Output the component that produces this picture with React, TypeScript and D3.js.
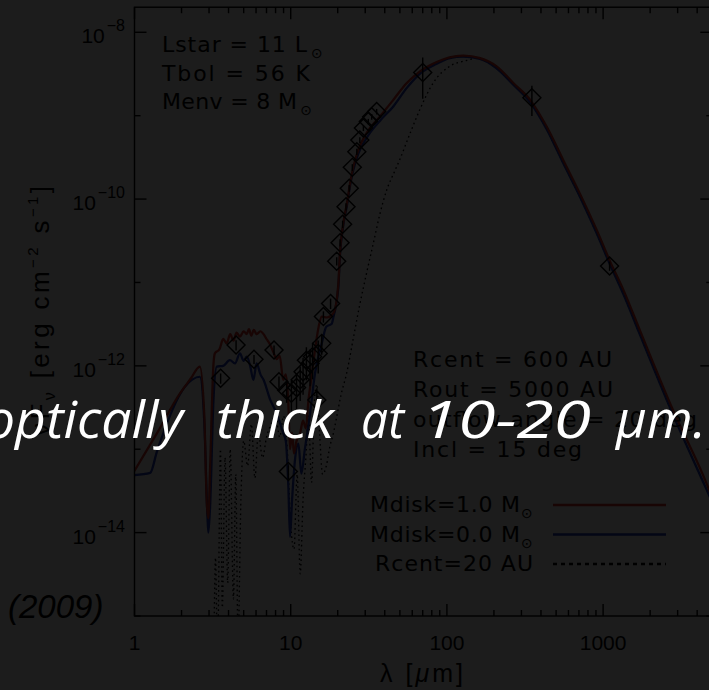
import React, { useEffect } from 'react';
import * as d3 from 'd3';

const W = 709;
const H = 690;

// Axis ticks
const xTickValues = [1, 10, 100, 1000];
const xTickLabels = ['1', '10', '100', '1000'];
const yMajorExps = [-8, -10, -12, -14];
const yMinorExps = [-9, -11, -13, -15];

// Model SED: Mdisk = 1.0 Msun
const redWave = [1.0, 1.4, 1.96, 2.3, 2.62, 2.8, 2.9, 2.97, 3.05, 3.2, 3.27, 3.5, 3.7, 3.89, 4.1, 4.3, 4.5, 4.73, 5.0, 5.23, 5.4, 5.6, 5.8, 6.05, 6.4, 6.7, 7.0, 7.4, 7.8, 8.13, 8.5, 8.96, 9.3, 9.66, 9.9, 10.2, 10.5, 10.9, 11.5, 12.0, 12.5, 13.0, 13.6, 14.3, 15.1, 15.8, 17.0, 18.8, 20.2, 20.6, 21.7, 22.9, 24.0, 25.2, 27.1, 30.6, 37.3, 45.4, 55.2, 67.3, 86.1, 104, 127, 163, 208, 267, 341, 435, 555, 709, 908, 1110, 1350, 1715, 2800, 4590, 5000];
const redFlux = [5.5e-14, 1.58e-13, 4.7e-13, 7.1e-13, 9.8e-13, 2.5e-13, 2.3e-14, 1.48e-14, 6.3e-14, 1.02e-12, 1.41e-12, 1.58e-12, 2.1e-12, 1.86e-12, 2.4e-12, 2.0e-12, 2.5e-12, 2.24e-12, 2.6e-12, 2.4e-12, 2.75e-12, 2.3e-12, 2.7e-12, 2.4e-12, 2.6e-12, 2.4e-12, 2.1e-12, 1.78e-12, 1.41e-12, 1.2e-12, 1.32e-12, 6.8e-13, 7.9e-13, 3.5e-13, 1.0e-13, 1.58e-13, 8.9e-14, 1.26e-13, 1.58e-13, 2.2e-13, 1.78e-13, 3.9e-13, 7.4e-13, 1.55e-12, 2.95e-12, 3.9e-12, 3.8e-12, 4.3e-12, 9.8e-12, 2.04e-11, 5.1e-11, 8.9e-11, 1.55e-10, 2.45e-10, 3.9e-10, 6.2e-10, 9.8e-10, 1.55e-9, 2.45e-9, 3.4e-9, 4.4e-9, 5.0e-9, 5.25e-9, 4.9e-9, 3.9e-9, 2.45e-9, 1.55e-9, 7.4e-10, 2.95e-10, 1.17e-10, 4.3e-11, 1.78e-11, 8.1e-12, 2.7e-12, 2.95e-13, 3.9e-14, 2.6e-14];

// Model SED: Mdisk = 0.0 Msun
const blueWave = [1.0, 1.26, 1.39, 2.1, 2.62, 2.8, 2.93, 2.97, 3.05, 3.2, 3.36, 3.7, 4.08, 4.4, 4.73, 5.0, 5.23, 5.5, 5.77, 6.05, 6.4, 6.7, 7.4, 8.13, 8.96, 9.3, 9.66, 9.9, 10.2, 10.7, 11.2, 11.7, 12.3, 13.3, 14.3, 15.8, 16.9, 18.3, 18.8, 20.2, 20.6, 21.7, 22.9, 24.0, 25.2, 27.1, 30.6, 37.3, 45.4, 55.2, 67.3, 86.1, 104, 127, 163, 208, 267, 341, 435, 555, 709, 908, 1110, 1350, 1715, 2800, 4590, 5000];
const blueFlux = [4.9e-14, 5.2e-14, 9.3e-14, 5.6e-13, 7.4e-13, 2.0e-13, 1.58e-14, 1.0e-14, 2.1e-14, 3.7e-13, 9.8e-13, 1.0e-12, 1.17e-12, 1.07e-12, 1.41e-12, 1.15e-12, 1.29e-12, 1.0e-12, 6.8e-13, 1.07e-12, 7.9e-13, 6.8e-13, 3.9e-13, 2.7e-13, 1.55e-13, 1.26e-13, 3.5e-14, 8.9e-15, 2.45e-14, 8.1e-14, 1.17e-13, 5.1e-14, 9.8e-14, 2.7e-13, 8.1e-13, 1.86e-12, 2.95e-12, 3.2e-12, 3.9e-12, 8.9e-12, 1.9e-11, 4.8e-11, 8.3e-11, 1.45e-10, 2.24e-10, 3.5e-10, 5.4e-10, 8.7e-10, 1.29e-9, 2.14e-9, 3.2e-9, 4.2e-9, 4.9e-9, 5.1e-9, 4.8e-9, 3.7e-9, 2.34e-9, 1.45e-9, 6.9e-10, 2.7e-10, 1.07e-10, 3.9e-11, 1.62e-11, 7.2e-12, 2.4e-12, 2.6e-13, 3.3e-14, 2.3e-14];

// Model SED: Rcent = 20 AU
const dotWave = [3.0, 3.2, 3.3, 3.4, 3.55, 3.65, 3.8, 3.95, 4.1, 4.3, 4.45, 4.6, 4.8, 5.0, 5.3, 5.6, 5.9, 6.2, 6.6, 7.0, 7.5, 8.0, 8.5, 9.0, 9.5, 10.0, 10.5, 11.0, 11.5, 12.0, 12.5, 13.0, 13.6, 14.2, 14.7, 15.3, 16.0, 16.9, 17.8, 18.8, 19.7, 21.0, 22.8, 25.0, 27.5, 30.5, 33.8, 37.0, 41.2, 46.0, 50.0, 58.2, 67.3, 82, 104, 134, 155, 208, 267, 341, 435, 555, 709, 908, 1110, 1350, 1715, 2800, 4590, 5000];
const dotFlux = [1e-16, 3.2e-16, 5e-15, 3.2e-16, 1e-13, 1.26e-15, 7.9e-14, 2.5e-15, 1e-13, 1.6e-15, 5e-14, 5e-16, 2.5e-14, 1.26e-13, 6.3e-14, 2e-13, 4.5e-14, 1.58e-13, 7.9e-14, 1.4e-13, 2e-13, 2.5e-13, 1.4e-13, 2.5e-13, 1e-13, 1.26e-14, 6.3e-15, 5e-14, 3.2e-15, 2.5e-14, 7.9e-14, 2.5e-13, 4e-14, 4e-13, 6e-13, 1.58e-13, 5e-14, 6.3e-14, 1.07e-13, 1.58e-13, 2.45e-13, 4.5e-13, 8.1e-13, 2.0e-12, 5.1e-12, 1.26e-11, 2.95e-11, 6.3e-11, 1.29e-10, 2.1e-10, 3.0e-10, 6.2e-10, 1.2e-9, 2.5e-9, 3.9e-9, 4.6e-9, 4.9e-9, 3.7e-9, 2.34e-9, 1.45e-9, 6.9e-10, 2.7e-10, 1.07e-10, 3.9e-11, 1.62e-11, 7.2e-12, 2.4e-12, 2.6e-13, 3.3e-14, 2.3e-14];

// Observed photometry and IRS spectrum
const obsWave = [3.56, 4.47, 5.82, 7.82, 8.41, 9.42, 9.66, 10.1, 10.9, 11.5, 12.0, 12.6, 13.3, 13.8, 14.7, 15.0, 15.8, 16.2, 18.0, 19.7, 20.7, 21.5, 22.6, 23.7, 24.8, 26.5, 27.7, 29.2, 31.4, 33.0, 35.5, 70, 350, 1100];
const obsFlux = [7.1e-13, 1.78e-12, 1.2e-12, 1.55e-12, 6.45e-13, 5.1e-13, 5.4e-14, 4.7e-13, 5.5e-13, 6.8e-13, 8.5e-13, 1.17e-12, 1.07e-12, 1.29e-12, 3.9e-13, 1.41e-12, 1.86e-12, 3.9e-12, 5.6e-12, 1.8e-11, 3.0e-11, 5.0e-11, 8.1e-11, 1.35e-10, 2.4e-10, 3.7e-10, 5.1e-10, 7.1e-10, 8.5e-10, 9.7e-10, 1.12e-9, 3.3e-9, 1.64e-9, 1.58e-11];
const obsErr = [1.0e-13, 2.5e-13, 1.5e-13, 2.0e-13, 1.0e-13, 1.5e-13, 1.0e-14, 2.0e-13, 2.5e-13, 3.0e-13, 4.0e-13, 5.0e-13, 5.0e-13, 6.0e-13, 1.5e-13, 6.0e-13, 5.0e-13, 6.0e-13, 8.0e-13, 2.0e-12, 3.0e-12, 5.0e-12, 8.0e-12, 1.3e-11, 2.2e-11, 3.2e-11, 4.2e-11, 5.6e-11, 6.5e-11, 7.5e-11, 8.5e-11, 1.7e-9, 6.5e-10, 2.0e-12];

// Model parameters and legend
const paramsTop = [
  { text: 'Lstar = 11 L', sun: true, len: 145 },
  { text: 'Tbol = 56 K', sun: false, len: 148 },
  { text: 'Menv = 8 M', sun: true, len: 135 },
];
const paramsBottom = [
  { text: 'Rcent = 600 AU', len: 199 },
  { text: 'Rout = 5000 AU', len: 200 },
  { text: 'outflow angle = 20 deg', len: 284 },
  { text: 'Incl = 15 deg', len: 169 },
];
const RED = '#180504';
const BLUE = '#030615';
const legendItems = [
  { label: 'Mdisk=1.0 M', sun: true, color: RED, dash: '', len: 150 },
  { label: 'Mdisk=0.0 M', sun: true, color: BLUE, dash: '', len: 150 },
  { label: 'Rcent=20 AU', sun: false, color: '#000000', dash: '4 4', len: 158 },
];

const captionWords = ['optically', 'thick', 'at', '10-20', 'μm.'];
const captionYear = '(2009)';

const BG = '#1c1c1c';
const INK = '#000000';

export default function App() {
  useEffect(() => {
    const root = document.documentElement;
    root.style.background = BG;
    root.style.colorScheme = 'only light';
    document.body.style.background = BG;
    document.body.style.margin = '0';
  }, []);

  const left = 134.5;
  const right = 712.3;
  const top = 7.2;
  const bottom = 616;
  const pw = right - left;
  const ph = bottom - top;

  // scales in the plot viewport's own coordinates
  const x = d3.scaleLog().domain([1, 5000]).range([0, pw]);
  const y = d3.scaleLog().domain([1e-15, 2e-8]).range([ph, 0]);

  const line = d3
    .line<[number, number]>()
    .x((d) => x(d[0]))
    .y((d) => y(Math.max(d[1], 1e-17)))
    .curve(d3.curveMonotoneX);

  const zip = (a: number[], b: number[]) => a.map((v, i) => [v, b[i]] as [number, number]);

  const xMinor: number[] = [];
  for (const dec of [1, 10, 100, 1000]) {
    for (let m = 2; m <= 9; m++) {
      if (dec * m <= 5000) xMinor.push(dec * m);
    }
  }

  const fontTick = "'Liberation Sans', Arial, sans-serif";
  const fontText = "'DejaVu Sans', sans-serif";

  // word placement of the white caption: [start x, rendered width]
  const captionPos: [number, number][] = [
    [-15, 198],
    [216, 118],
    [361, 43],
    [421, 170],
    [616, 90],
  ];

  return (
    <div style={{ position: 'fixed', left: 0, top: 0, width: W, height: H, background: BG }}>
      <svg width={W} height={H} style={{ display: 'block' }}>
        <rect x={0} y={0} width={W} height={H} fill={BG} />

        {/* plot viewport: clips model curves to the axes box */}
        <svg x={left} y={top} width={pw} height={ph} overflow="hidden">
          <path d={line(zip(dotWave, dotFlux)) || ''} fill="none" stroke="#000000" strokeWidth={1.3} strokeDasharray="1.6 3.2" />
          <path d={line(zip(blueWave, blueFlux)) || ''} fill="none" stroke={BLUE} strokeWidth={2.2} />
          <path d={line(zip(redWave, redFlux)) || ''} fill="none" stroke={RED} strokeWidth={2.2} />
        </svg>

        <g transform={`translate(${left},${top})`}>
          {/* observations */}
          {obsWave.map((w, i) => {
            const cx = x(w);
            const cy = y(obsFlux[i]);
            const r = 9;
            return (
              <g key={'ob' + i}>
                <line
                  x1={cx}
                  x2={cx}
                  y1={y(obsFlux[i] + obsErr[i])}
                  y2={y(Math.max(obsFlux[i] - obsErr[i], 1e-16))}
                  stroke="#000000"
                  strokeWidth={1.4}
                />
                <path
                  d={`M${cx},${cy - r}L${cx + r},${cy}L${cx},${cy + r}L${cx - r},${cy}Z`}
                  fill="none"
                  stroke="#000000"
                  strokeWidth={1.4}
                />
              </g>
            );
          })}

          {/* frame and ticks */}
          <rect x={0} y={0} width={pw} height={ph} fill="none" stroke="#000000" strokeWidth={1.4} />
          {xTickValues.map((v) => (
            <g key={'xm' + v}>
              <line x1={x(v)} x2={x(v)} y1={ph} y2={ph - 12} stroke="#000000" strokeWidth={1.4} />
              <line x1={x(v)} x2={x(v)} y1={0} y2={12} stroke="#000000" strokeWidth={1.4} />
            </g>
          ))}
          {xMinor.map((v) => (
            <g key={'xn' + v}>
              <line x1={x(v)} x2={x(v)} y1={ph} y2={ph - 6} stroke="#000000" strokeWidth={1.4} />
              <line x1={x(v)} x2={x(v)} y1={0} y2={6} stroke="#000000" strokeWidth={1.4} />
            </g>
          ))}
          {yMajorExps.map((e) => (
            <g key={'ym' + e}>
              <line x1={0} x2={12} y1={y(10 ** e)} y2={y(10 ** e)} stroke="#000000" strokeWidth={1.4} />
              <line x1={pw} x2={pw - 12} y1={y(10 ** e)} y2={y(10 ** e)} stroke="#000000" strokeWidth={1.4} />
            </g>
          ))}
          {yMinorExps.map((e) => (
            <g key={'yn' + e}>
              <line x1={0} x2={6} y1={y(10 ** e)} y2={y(10 ** e)} stroke="#000000" strokeWidth={1.4} />
              <line x1={pw} x2={pw - 6} y1={y(10 ** e)} y2={y(10 ** e)} stroke="#000000" strokeWidth={1.4} />
            </g>
          ))}

          {/* tick labels */}
          {xTickValues.map((v, i) => (
            <text key={'xl' + v} x={x(v)} y={650 - top} fontSize={21} textAnchor="middle" fill={INK} fontFamily={fontTick}>
              {xTickLabels[i]}
            </text>
          ))}
          {yMajorExps.map((e) => (
            <text key={'yl' + e} x={125 - left} y={y(10 ** e) + 11} fontSize={21} textAnchor="end" fill={INK} fontFamily={fontTick}>
              10
              <tspan fontSize={16} dy={-12} dx={2}>
                {'\u2212' + String(-e)}
              </tspan>
            </text>
          ))}
        </g>

        {/* axis titles */}
        <text x={380} y={682} fontSize={25} fill={INK} fontFamily={fontTick} textLength={83} lengthAdjust="spacing">
          λ [<tspan fontStyle="italic">μ</tspan>m]
        </text>
        <text
          transform="translate(49,311) rotate(-90)"
          fontSize={26}
          fill={INK}
          fontFamily={fontTick}
          textAnchor="middle"
          textLength={250}
          lengthAdjust="spacing"
        >
          νF
          <tspan fontSize={16} dy={6}>ν</tspan>
          <tspan dy={-6}> [erg cm</tspan>
          <tspan fontSize={15} dy={-11}>−2</tspan>
          <tspan dy={11}> s</tspan>
          <tspan fontSize={15} dy={-11}>−1</tspan>
          <tspan dy={11}>]</tspan>
        </text>

        {/* model parameters */}
        {paramsTop.map((p, i) => (
          <text key={'pt' + i} x={162} y={52 + i * 28.5} fontSize={22} fill={INK} fontFamily={fontText}>
            <tspan textLength={p.len} lengthAdjust="spacing">
              {p.text}
            </tspan>
            {p.sun ? (
              <tspan fontSize={14} dy={6} dx={3}>
                ⊙
              </tspan>
            ) : null}
          </text>
        ))}
        {paramsBottom.map((p, i) => (
          <text
            key={'pb' + i}
            x={413}
            y={367 + i * 30}
            fontSize={22}
            fill={INK}
            fontFamily={fontText}
            textLength={p.len}
            lengthAdjust="spacing"
          >
            {p.text}
          </text>
        ))}

        {/* legend */}
        {legendItems.map((it, i) => {
          const ly = 505 + i * 29.5;
          return (
            <g key={'lg' + i}>
              <text
                x={it.sun ? 520 - it.len : 533 - it.len}
                y={ly + 7}
                fontSize={22}
                fill={INK}
                fontFamily={fontText}
                textLength={it.len}
                lengthAdjust="spacing"
              >
                {it.label}
              </text>
              {it.sun ? (
                <text x={521} y={ly + 13} fontSize={14} fill={INK} fontFamily={fontText}>
                  ⊙
                </text>
              ) : null}
              <line
                x1={553}
                x2={666}
                y1={ly}
                y2={ly}
                stroke={it.color}
                strokeWidth={2.6}
                strokeDasharray={it.dash || undefined}
              />
            </g>
          );
        })}

        {/* caption fragment */}
        <text x={8} y={618} fontSize={33} fontStyle="italic" fill={INK} fontFamily={fontTick}>
          {captionYear}
        </text>
        {captionWords.map((w, i) => (
          <text
            key={'cw' + i}
            x={captionPos[i][0]}
            y={438}
            fill="#ffffff"
            fontFamily="'Open Sans', 'Noto Sans', sans-serif"
            fontStyle="italic"
            fontSize={51}
            textLength={captionPos[i][1]}
            lengthAdjust="spacingAndGlyphs"
          >
            {w}
          </text>
        ))}
      </svg>
    </div>
  );
}
